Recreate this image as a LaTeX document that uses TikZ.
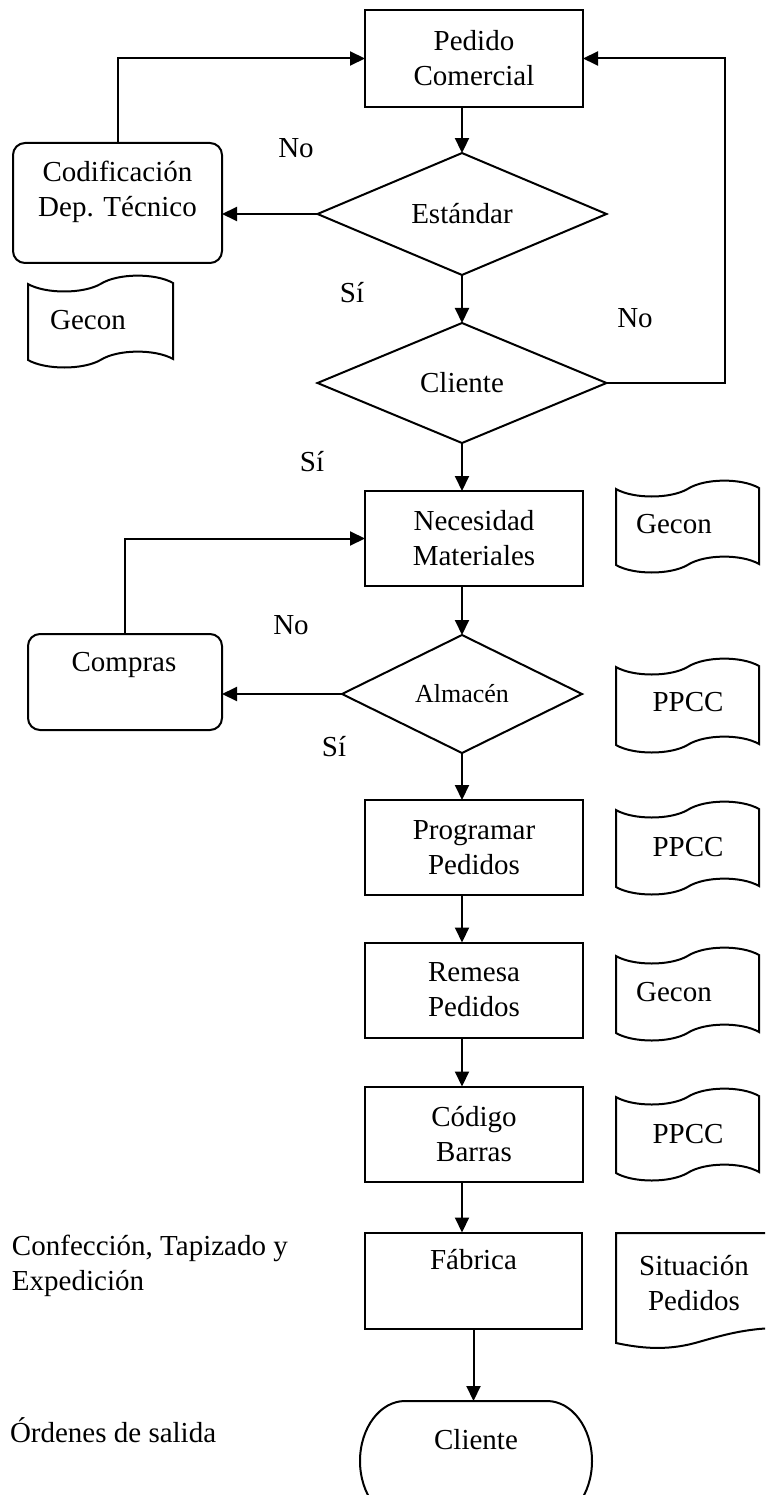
\documentclass[tikz,border=0pt]{standalone}
\usepackage{fontspec}
\setmainfont{Liberation Serif}
\usetikzlibrary{shapes.geometric,arrows.meta}

% punched-tape document symbol: left x, y of the left end of the top edge, width, height
\newcommand{\tapedoc}[4]{%
  \begin{scope}[shift={(#1,#2)}]
    \draw[ln] (0,0) .. controls (0.12*#3,10) and (0.38*#3,10) .. (0.5*#3,0)
      .. controls (0.62*#3,-11) and (0.88*#3,-11) .. (#3,-1) -- (#3,#4-1)
      .. controls (0.88*#3,#4-11) and (0.62*#3,#4-11) .. (0.5*#3,#4)
      .. controls (0.38*#3,#4+10) and (0.12*#3,#4+10) .. (0,#4) -- cycle;
  \end{scope}}

\begin{document}
\begin{tikzpicture}[x=1pt,y=-1pt,
  every node/.style={font=\fontsize{29}{35}\selectfont, inner sep=0pt, outer sep=0pt},
  ln/.style={line width=2pt, line join=miter},
  arr/.style={ln, -{Triangle[length=15pt,width=14pt]}},
  procbox/.style={draw, line width=2pt, rectangle, minimum width=218pt, minimum height=95pt},
  roundbox/.style={draw, line width=2pt, rectangle, rounded corners=12pt, minimum width=#1},
  decision/.style={draw, line width=2pt, diamond, minimum width=#1},
  txt/.style={align=center}
]
\useasboundingbox (0,0) rectangle (765,1495);
\clip (0,0) rectangle (765,1495);

% main process column
\node[procbox, minimum height=97pt, txt] (ped) at (474,58.5) {Pedido\\Comercial};
\node[decision=289pt, minimum height=118pt] (est) at (462,214) {Estándar};
\node[decision=289pt, minimum height=120pt] (cli) at (462,383) {Cliente};
\node[procbox, txt] (nec) at (474,538.5) {Necesidad\\Materiales};
\node[decision=240pt, minimum height=118pt, font=\fontsize{26}{30}\selectfont] (alm) at (462,694) {Almacén};
\node[procbox, txt] (prog) at (474,847.5) {Programar\\Pedidos};
\node[procbox, txt] (rem) at (474,990) {Remesa\\Pedidos};
\node[procbox, txt] (codb) at (474,1134) {Código\\Barras};
\node[procbox, minimum width=217pt, minimum height=96pt] (fab) at (473.5,1280.5) {};
\node (fabt) at (473.5,1260) {Fábrica};
\node[minimum width=232pt, minimum height=120pt] (term) at (476,1461) {};
\draw[ln] (405,1401) -- (547,1401) arc[start angle=-90, end angle=90, x radius=45, y radius=60]
  -- (405,1521) arc[start angle=90, end angle=270, x radius=45, y radius=60] -- cycle;
\node (termt) at (476,1440) {Cliente};

% side branches
\node[roundbox=209pt, minimum height=120pt] (cod) at (117.5,203) {};
\node[txt] (codt) at (117.5,192) {Codificación\\Dep. Técnico};
\node[roundbox=194pt, minimum height=96pt] (comp) at (125,682) {};
\node (compt) at (124,665) {Compras};

% documents
\tapedoc{28}{284}{145}{76}
\node (g1) at (88,320) {Gecon};
\tapedoc{616}{489}{143}{76}
\node (g2) at (674,524) {Gecon};
\tapedoc{616}{667}{143}{78}
\node (p1) at (688,702) {PPCC};
\tapedoc{616}{810}{143}{77}
\node (p2) at (688,847) {PPCC};
\tapedoc{616}{956}{143}{77}
\node (g3) at (674,992) {Gecon};
\tapedoc{616}{1097}{143}{76}
\node (p3) at (688,1134) {PPCC};
\draw[ln] (616,1233) -- (780,1233) -- (780,1328)
  .. controls (745,1328) and (720,1336) .. (695,1343)
  .. controls (665,1351) and (640,1348) .. (616,1343) -- cycle;
\node[txt] (sit) at (694,1283) {Situación\\Pedidos};

% free labels
\node (no1) at (296,148) {No};
\node (si1) at (352,293) {Sí};
\node (no2) at (635,318) {No};
\node (si2) at (312,462) {Sí};
\node (no3) at (291,625) {No};
\node (si3) at (334,747) {Sí};
\node[align=left, anchor=west] (conf) at (12,1266) {Confección, Tapizado y\\Expedición};
\node[anchor=west] (ord) at (10,1430) {Órdenes de salida};

% connectors
\coordinate (rt) at (725,383);
\draw[arr] (ped.south -| est.north) -- (est.north);
\draw[arr] (est.west) -- (est.west -| cod.east);
\draw[arr] (cod.north) |- (ped.west);
\draw[arr] (est.south) -- (cli.north);
\draw[arr] (cli.east) -- (rt) |- (ped.east);
\draw[arr] (cli.south) -- (cli.south |- nec.north);
\draw[arr] (comp.north) |- (nec.west);
\draw[arr] (nec.south -| alm.north) -- (alm.north);
\draw[arr] (alm.west) -- (alm.west -| comp.east);
\draw[arr] (alm.south) -- (alm.south |- prog.north);
\draw[arr] (prog.south -| alm.south) -- (rem.north -| alm.south);
\draw[arr] (rem.south -| alm.south) -- (codb.north -| alm.south);
\draw[arr] (codb.south -| alm.south) -- (fab.north -| alm.south);
\draw[arr] (fab.south) -- (fab.south |- term.north);
\end{tikzpicture}
\end{document}
